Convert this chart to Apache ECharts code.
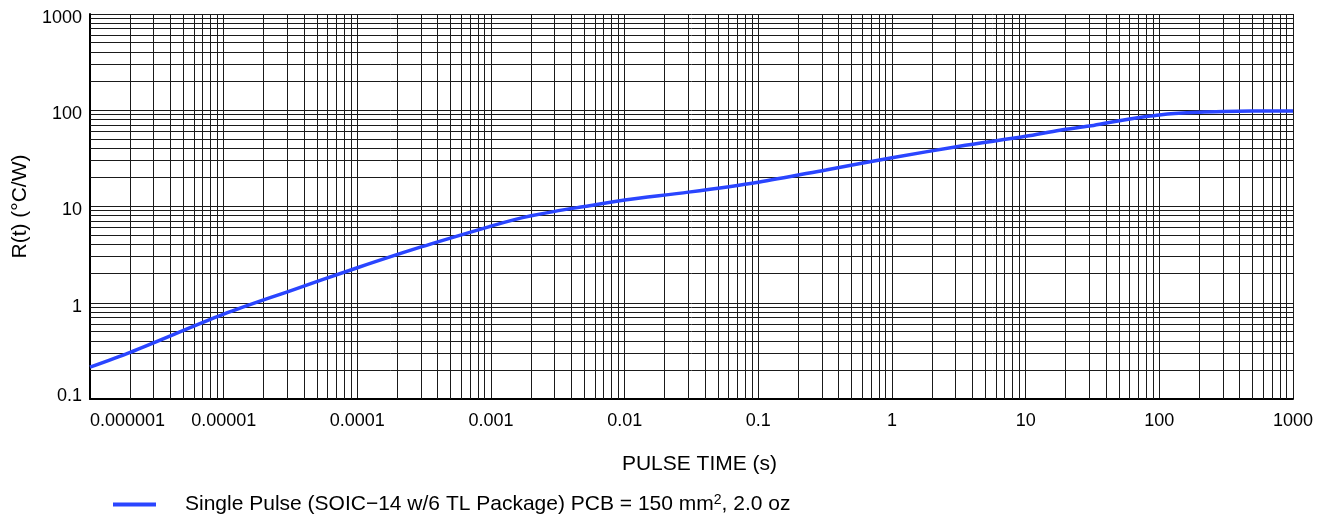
<!DOCTYPE html>
<html>
<head>
<meta charset="utf-8">
<script src="https://cdn.jsdelivr.net/npm/echarts@6/dist/echarts.min.js"></script>
<style>
  html, body { margin: 0; padding: 0; background: #fff; }
  #chart { width: 1321px; height: 519px; }
</style>
</head>
<body>
<div id="chart"></div>
<script>
// ---- data ----
const pulseTime = [1e-6, 2e-6, 1e-5, 3e-5, 1e-4, 3e-4, 1e-3, 1.5e-3, 2e-3, 3e-3, 5e-3, 1e-2, 3e-2, 0.1, 0.32, 1, 3.2, 10, 18, 30, 40, 60, 80, 100, 130, 200, 300, 500, 1000];
const thermalR  = [0.214, 0.305, 0.76, 1.3, 2.31, 3.8, 6.25, 7.3, 8.0, 8.9, 10.0, 11.7, 14.1, 17.9, 24.0, 32.1, 42.3, 53.6, 62, 68.5, 73.6, 81, 86, 89.5, 92.5, 95.5, 97, 98, 98.5];
const xDecades = [1e-6, 1e-5, 1e-4, 1e-3, 1e-2, 1e-1, 1, 10, 100, 1000];
const xTickLabels = ['0.000001', '0.00001', '0.0001', '0.001', '0.01', '0.1', '1', '10', '100', '1000'];
const yDecades = [0.1, 1, 10, 100, 1000];
const yTickLabels = ['0.1', '1', '10', '100', '1000'];
const minorSteps = [2, 3, 4, 5, 6, 7, 8, 9];
const seriesName = 'Single Pulse (SOIC\u221214 w/6 TL Package) PCB = 150 mm';
const seriesNameTail = ', 2.0 oz';
const xTitle = 'PULSE TIME (s)';
const yTitle = 'R(t) (\u00B0C/W)';

// ---- build ----
function labelFor(v, decades, labels) {
  const lv = Math.log10(v);
  for (let i = 0; i < decades.length; i++) {
    if (Math.abs(Math.log10(decades[i]) - lv) < 1e-6) return labels[i];
  }
  return '';
}
const minorX = [];
for (let i = 0; i < xDecades.length - 1; i++) minorSteps.forEach(m => minorX.push(xDecades[i] * m));
const minorY = [];
for (let i = 0; i < yDecades.length - 1; i++) minorSteps.forEach(m => minorY.push(yDecades[i] * m));
const xMin = xDecades[0], xMax = xDecades[xDecades.length - 1];
const yMin = yDecades[0], yMax = yDecades[yDecades.length - 1];

const gridColor = '#1a1a1a';
const font = 'Liberation Sans, Arial, Helvetica, sans-serif';

function crisp(v) { return Math.round(v - 0.5) + 0.5; }

const chart = echarts.init(document.getElementById('chart'), null, { renderer: 'canvas' });
chart.setOption({
  animation: false,
  backgroundColor: '#ffffff',
  textStyle: { fontFamily: font },
  grid: { left: 90, right: 28, top: 14, bottom: 120, containLabel: false },
  legend: {
    left: 113, top: 493, padding: 0,
    icon: 'rect', itemWidth: 43, itemHeight: 4, itemGap: 10,
    data: [seriesName],
    formatter: function () { return '{a|' + seriesName + '}{s|2}{a|' + seriesNameTail + '}'; },
    textStyle: {
      fontFamily: font, color: '#000',
      padding: [0, 0, 0, 24],
      rich: {
        a: { fontSize: 21, fontFamily: font, color: '#000' },
        s: { fontSize: 14, fontFamily: font, color: '#000', verticalAlign: 'top', padding: [0, 0, 9, 0] }
      }
    }
  },
  xAxis: {
    type: 'log', logBase: 10, min: xMin, max: xMax, splitNumber: 9,
    name: xTitle, nameLocation: 'middle', nameGap: 55,
    nameTextStyle: { fontSize: 21, color: '#000', fontFamily: font, padding: [0, 0, 0, 16] },
    axisLine: { show: true, onZero: false, lineStyle: { color: '#000', width: 2 } },
    axisTick: { show: false },
    axisLabel: {
      fontSize: 18, color: '#000', margin: 13, fontFamily: font,
      alignMinLabel: 'left',
      formatter: v => labelFor(v, xDecades, xTickLabels)
    },
    splitLine: { show: true, lineStyle: { color: gridColor, width: 1 } },
    minorTick: { show: false }, minorSplitLine: { show: false }
  },
  yAxis: {
    type: 'log', logBase: 10, min: yMin, max: yMax, splitNumber: 4,
    name: yTitle, nameLocation: 'middle', nameGap: 58,
    nameTextStyle: { fontSize: 21, color: '#000', fontFamily: font },
    axisLine: { show: true, onZero: false, lineStyle: { color: '#000', width: 2 } },
    axisTick: { show: false },
    axisLabel: {
      color: '#000', margin: 8, fontFamily: font,
      formatter: v => (Math.abs(v - yMin) < 1e-9 ? '{m|' : '{t|') + labelFor(v, yDecades, yTickLabels) + '}',
      rich: {
        t: { fontSize: 18, color: '#000', fontFamily: font, padding: [8, 0, 0, 0] },
        m: { fontSize: 18, color: '#000', fontFamily: font, padding: [0, 0, 6, 0] }
      }
    },
    splitLine: { show: true, lineStyle: { color: gridColor, width: 1 } },
    minorTick: { show: false }, minorSplitLine: { show: false }
  },
  series: [
    {
      name: 'grid-minor-x', type: 'custom', z: 1, silent: true,
      data: minorX.map(v => [v, yMin]),
      encode: { x: 0, y: 1 },
      renderItem: function (params, api) {
        const x = api.value(0);
        const p1 = api.coord([x, yMin]);
        const p2 = api.coord([x, yMax]);
        const cx = crisp(p1[0]);
        return { type: 'line', shape: { x1: cx, y1: p1[1], x2: cx, y2: p2[1] },
                 style: { stroke: gridColor, lineWidth: 1 } };
      }
    },
    {
      name: 'grid-minor-y', type: 'custom', z: 1, silent: true,
      data: minorY.map(v => [xMin, v]),
      encode: { x: 0, y: 1 },
      renderItem: function (params, api) {
        const y = api.value(1);
        const p1 = api.coord([xMin, y]);
        const p2 = api.coord([xMax, y]);
        const cy = crisp(p1[1]);
        return { type: 'line', shape: { x1: p1[0], y1: cy, x2: p2[0], y2: cy },
                 style: { stroke: gridColor, lineWidth: 1 } };
      }
    },
    {
      name: seriesName, type: 'line', z: 5,
      data: pulseTime.map((t, i) => [t, thermalR[i]]),
      showSymbol: false, smooth: 0.3,
      lineStyle: { color: '#2a45ff', width: 3.5 },
      itemStyle: { color: '#2a45ff' }
    }
  ]
});
</script>
</body>
</html>
